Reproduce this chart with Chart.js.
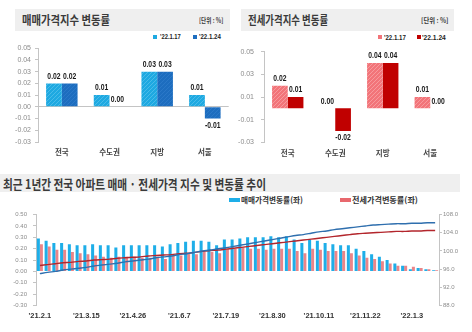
<!DOCTYPE html>
<html>
<head>
<meta charset="utf-8">
<script src="https://cdn.jsdelivr.net/npm/chart.js@4.4.1/dist/chart.umd.min.js"></script>
<style>
  body { margin: 0; background: #fff; }
  #wrap { position: relative; width: 472px; height: 332px; overflow: hidden; background: #fff; }
  .band { position: absolute; background: #efefef; }
  .txt { position: absolute; white-space: nowrap; transform-origin: left center; line-height: 1; font-family: "Noto Sans CJK KR", sans-serif; color: #3a3a3a; font-weight: bold; }
  .num { font-family: "Liberation Sans", Arial, sans-serif; }
  .sq { position: absolute; }
  canvas { position: absolute; }
</style>
</head>
<body>
<div id="wrap">
  <!-- top left header -->
  <div class="band" style="left:15px;top:9px;width:215px;height:22px;"></div>
  <div class="txt fit" data-w="88" style="left:22px;top:14px;font-size:12px;">매매가격지수 변동률</div>
  <div class="txt fit" data-w="24" style="left:199px;top:16.5px;font-size:7px;">[단위 : %]</div>
  <div class="sq" style="left:153px;top:34.5px;width:4px;height:4px;background:#1ea9e1;"></div>
  <div class="txt num fit" data-w="21" style="left:160px;top:33px;font-size:7.5px;color:#222;">'22.1.17</div>
  <div class="sq" style="left:193px;top:34.5px;width:4px;height:4px;background:#1d6dbf;"></div>
  <div class="txt num fit" data-w="22" style="left:199px;top:33px;font-size:7.5px;color:#222;">'22.1.24</div>

  <!-- top right header -->
  <div class="band" style="left:241px;top:9px;width:213px;height:22px;"></div>
  <div class="txt fit" data-w="80" style="left:248px;top:14px;font-size:12px;">전세가격지수 변동률</div>
  <div class="txt fit" data-w="27" style="left:421px;top:16.5px;font-size:7px;">[단위 : %]</div>
  <div class="sq" style="left:378px;top:35px;width:4px;height:4px;background:#f27479;"></div>
  <div class="txt num fit" data-w="22" style="left:384px;top:33.5px;font-size:7.5px;color:#222;">'22.1.17</div>
  <div class="sq" style="left:417px;top:35px;width:4px;height:4px;background:#c00000;"></div>
  <div class="txt num fit" data-w="24" style="left:422px;top:33.5px;font-size:7.5px;color:#222;">'22.1.24</div>

  <!-- bottom header -->
  <div class="band" style="left:0px;top:174px;width:460px;height:18px;"></div>
  <div class="txt fit" data-w="263" style="left:3px;top:176.5px;font-size:13px;">최근 1년간 전국 아파트 매매 · 전세가격 지수 및 변동률 추이</div>
  <div class="sq" style="left:229px;top:198px;width:11px;height:4px;background:#1eaee8;"></div>
  <div class="txt fit" data-w="62" style="left:241px;top:196px;font-size:8px;color:#333;">매매가격변동률(좌)</div>
  <div class="sq" style="left:340px;top:198px;width:11px;height:4px;background:#e8686d;"></div>
  <div class="txt fit" data-w="66" style="left:352px;top:196px;font-size:8px;color:#333;">전세가격변동률(좌)</div>

  <canvas id="saleChart" width="236" height="125" style="left:0px;top:40px;"></canvas>
  <canvas id="rentChart" width="236" height="125" style="left:236px;top:40px;"></canvas>
  <canvas id="trendChart" width="472" height="127" style="left:0px;top:205px;"></canvas>
</div>

<script>
// top charts data
const regions = ["전국", "수도권", "지방", "서울"];
const weekNames = ["'22.1.17", "'22.1.24"];
const saleJan17 = [0.02, 0.01, 0.03, 0.01];
const saleJan24 = [0.02, 0.00, 0.03, -0.01];
const rentJan17 = [0.02, 0.00, 0.04, 0.01];
const rentJan24 = [0.01, -0.02, 0.04, 0.00];

// bottom chart data (weekly)
const weeks = [
  "'21.2.1", "'21.2.8", "'21.2.15", "'21.2.22",
  "'21.3.1", "'21.3.8", "'21.3.15", "'21.3.22", "'21.3.29",
  "'21.4.5", "'21.4.12", "'21.4.19", "'21.4.26",
  "'21.5.3", "'21.5.10", "'21.5.17", "'21.5.24", "'21.5.31",
  "'21.6.7", "'21.6.14", "'21.6.21", "'21.6.28",
  "'21.7.5", "'21.7.12", "'21.7.19", "'21.7.26",
  "'21.8.2", "'21.8.9", "'21.8.16", "'21.8.23", "'21.8.30",
  "'21.9.6", "'21.9.13", "'21.9.20", "'21.9.27",
  "'21.10.4", "'21.10.11", "'21.10.18", "'21.10.25",
  "'21.11.1", "'21.11.8", "'21.11.15", "'21.11.22", "'21.11.29",
  "'21.12.6", "'21.12.13", "'21.12.20", "'21.12.27",
  "'22.1.3", "'22.1.10", "'22.1.17", "'22.1.24"
];
const shownWeeks = ["'21.2.1", "'21.3.15", "'21.4.26", "'21.6.7", "'21.7.19", "'21.8.30", "'21.10.11", "'21.11.22", "'22.1.3"];
const saleRate = [
  0.29, 0.27, 0.25, 0.25, 0.24, 0.23, 0.23, 0.24, 0.23, 0.23,
  0.21, 0.23, 0.23, 0.23, 0.23, 0.23, 0.22, 0.24, 0.25, 0.26,
  0.27, 0.27, 0.26, 0.23, 0.28, 0.28, 0.29, 0.30, 0.30, 0.30,
  0.31, 0.30, 0.31, 0.28, 0.25, 0.28, 0.27, 0.25, 0.24, 0.23,
  0.23, 0.20, 0.18, 0.15, 0.13, 0.10, 0.07, 0.05, 0.02, 0.03,
  0.02, 0.01
];
const rentRate = [
  0.24, 0.22, 0.19, 0.19, 0.17, 0.16, 0.15, 0.14, 0.13, 0.12,
  0.13, 0.13, 0.13, 0.12, 0.12, 0.13, 0.11, 0.14, 0.14, 0.16,
  0.15, 0.17, 0.17, 0.16, 0.20, 0.20, 0.21, 0.20, 0.20, 0.19,
  0.20, 0.20, 0.20, 0.18, 0.16, 0.20, 0.19, 0.18, 0.18, 0.18,
  0.16, 0.14, 0.12, 0.11, 0.09, 0.07, 0.05, 0.05, 0.04, 0.03,
  0.02, 0.01
];
const saleIndex = [
  95.0, 95.3, 95.5, 95.8, 96.0, 96.2, 96.4, 96.7, 96.9, 97.1,
  97.3, 97.6, 97.8, 98.0, 98.2, 98.5, 98.7, 98.9, 99.2, 99.4,
  99.7, 100.0, 100.2, 100.5, 100.7, 101.0, 101.3, 101.6, 101.9, 102.2,
  102.5, 102.8, 103.1, 103.4, 103.6, 103.9, 104.2, 104.4, 104.7, 104.9,
  105.1, 105.3, 105.5, 105.7, 105.8, 105.9, 106.0, 106.0, 106.1, 106.1,
  106.2, 106.2
];
const rentIndex = [
  96.8, 97.0, 97.2, 97.4, 97.5, 97.7, 97.8, 98.0, 98.1, 98.2,
  98.4, 98.5, 98.6, 98.7, 98.9, 99.0, 99.1, 99.2, 99.4, 99.5,
  99.7, 99.9, 100.1, 100.2, 100.4, 100.6, 100.8, 101.0, 101.2, 101.4,
  101.6, 101.8, 102.0, 102.2, 102.4, 102.6, 102.8, 103.0, 103.2, 103.4,
  103.6, 103.8, 103.9, 104.0, 104.1, 104.2, 104.3, 104.3, 104.4, 104.4,
  104.5, 104.5
];

const KR = '"Noto Sans CJK KR", sans-serif';
const SANS = '"Liberation Sans", Arial, sans-serif';

// squeeze header texts to the width they have in the picture
document.querySelectorAll(".fit").forEach(el => {
  const w = parseFloat(el.dataset.w);
  el.style.transform = "scaleX(" + (w / el.scrollWidth) + ")";
});

// diagonal hatch like the light bars in the picture
function hatch(canvasId, base, line) {
  const c = document.createElement("canvas");
  c.width = 4; c.height = 4;
  const g = c.getContext("2d");
  g.fillStyle = base;
  g.fillRect(0, 0, 4, 4);
  g.strokeStyle = line;
  g.lineWidth = 1;
  g.beginPath();
  g.moveTo(0, 4); g.lineTo(4, 0);
  g.moveTo(-1, 1); g.lineTo(1, -1);
  g.moveTo(3, 5); g.lineTo(5, 3);
  g.stroke();
  return document.getElementById(canvasId).getContext("2d").createPattern(c, "repeat");
}

// numbers over / under the bars (condensed look of the original)
const valueLabels = {
  id: "valueLabels",
  afterDatasetsDraw(chart) {
    const ctx = chart.ctx;
    chart.data.datasets.forEach((ds, i) => {
      chart.getDatasetMeta(i).data.forEach((bar, j) => {
        const v = ds.data[j];
        const y = v < 0 ? bar.y + 7 : bar.y - 7;
        ctx.save();
        ctx.translate(bar.x, y);
        ctx.scale(0.8, 1);
        ctx.font = "bold 8.5px " + SANS;
        ctx.fillStyle = "#1a1a1a";
        ctx.textAlign = "center";
        ctx.textBaseline = "middle";
        ctx.fillText(v.toFixed(2), 0, 0);
        ctx.restore();
      });
    });
  }
};

function topChart(id, a, b, colA, colB, pad, yWidth, xHeight, labelPad) {
  return new Chart(document.getElementById(id), {
    type: "bar",
    data: {
      labels: regions,
      datasets: [
        { label: weekNames[0], data: a, backgroundColor: colA, categoryPercentage: 0.66, barPercentage: 1 },
        { label: weekNames[1], data: b, backgroundColor: colB, categoryPercentage: 0.66, barPercentage: 1 }
      ]
    },
    options: {
      responsive: false,
      animation: false,
      layout: { padding: pad },
      plugins: { legend: { display: false }, tooltip: { enabled: false } },
      scales: {
        x: {
          grid: { display: false, drawTicks: false },
          border: { display: false },
          ticks: { color: "#444", font: { family: KR, size: 7.5, weight: "bold" }, padding: 6 },
          afterFit: s => { s.height = xHeight; }
        },
        y: {
          min: -0.03,
          max: 0.05,
          ticks: {
            stepSize: 0.01,
            color: "#8c8c8c",
            font: { family: SANS, size: 7 },
            padding: labelPad,
            callback: v => v.toFixed(2)
          },
          grid: {
            color: c => Math.abs(c.tick.value) < 1e-9 ? "#c4c4c4" : "rgba(0,0,0,0)",
            tickColor: "#c4c4c4",
            tickLength: 3
          },
          border: { color: "#c4c4c4" },
          afterFit: s => { s.width = yWidth; }
        }
      }
    },
    plugins: [valueLabels]
  });
}

topChart("saleChart", saleJan17, saleJan24,
  hatch("saleChart", "#1ea9e1", "#49bbe9"), hatch("saleChart", "#1d6dbf", "#2a78c8"),
  { top: 7.7, right: 7.3, left: 0, bottom: 0 }, 38, 23, 4);

topChart("rentChart", rentJan17, rentJan24,
  hatch("rentChart", "#f27479", "#f79a9d"), "#c00000",
  { top: 11.7, right: 18, left: 0, bottom: 0 }, 28, 22.7, 7);

// weekly change bars + index lines
new Chart(document.getElementById("trendChart"), {
  type: "bar",
  data: {
    labels: weeks,
    datasets: [
      { type: "line", label: "매매가격지수(우)", data: saleIndex, yAxisID: "y2", borderColor: "#2f6fae", borderWidth: 1.4, pointRadius: 0, tension: 0.3, order: 1 },
      { type: "line", label: "전세가격지수(우)", data: rentIndex, yAxisID: "y2", borderColor: "#b3262c", borderWidth: 1.4, pointRadius: 0, tension: 0.3, order: 1 },
      { label: "매매가격변동률(좌)", data: saleRate, yAxisID: "y", backgroundColor: "#1eaee8", categoryPercentage: 0.78, barPercentage: 1, order: 2 },
      { label: "전세가격변동률(좌)", data: rentRate, yAxisID: "y", backgroundColor: "#ea8589", categoryPercentage: 0.78, barPercentage: 1, order: 2 }
    ]
  },
  options: {
    responsive: false,
    animation: false,
    layout: { padding: { top: 8.5, left: 0, right: 0, bottom: 0 } },
    plugins: { legend: { display: false }, tooltip: { enabled: false } },
    scales: {
      x: {
        grid: { display: false, drawTicks: false },
        border: { display: false },
        ticks: {
          autoSkip: false,
          maxRotation: 0,
          minRotation: 0,
          padding: 6,
          color: "#333",
          font: { family: SANS, size: 7.5, weight: "bold" },
          callback: (v, i) => shownWeeks.includes(weeks[i]) ? weeks[i] : ""
        },
        afterFit: s => { s.height = 26.5; }
      },
      y: {
        position: "left",
        min: -0.3,
        max: 0.5,
        ticks: { stepSize: 0.1, color: "#8c8c8c", font: { family: SANS, size: 6 }, padding: 6, callback: v => v.toFixed(2) },
        grid: { drawOnChartArea: false, tickLength: 3, color: "#c4c4c4" },
        border: { color: "#c4c4c4" },
        afterFit: s => { s.width = 36; }
      },
      y2: {
        position: "right",
        min: 88,
        max: 108,
        ticks: { stepSize: 2, color: "#8c8c8c", font: { family: SANS, size: 6 }, padding: 1, callback: v => v.toFixed(1) },
        grid: { drawOnChartArea: false, tickLength: 3, color: "#c4c4c4" },
        border: { color: "#c4c4c4" },
        afterFit: s => { s.width = 33; }
      }
    }
  }
});
</script>
</body>
</html>
